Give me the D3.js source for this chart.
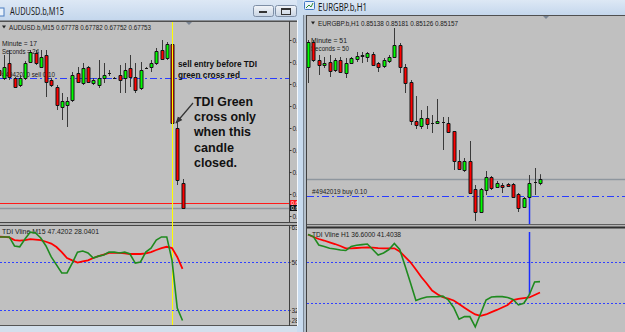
<!DOCTYPE html>
<html><head><meta charset="utf-8">
<script src="https://cdn.jsdelivr.net/npm/d3@7"></script>
<style>body{margin:0;background:#c3d6ec;overflow:hidden}svg{display:block}</style>
</head><body>
<svg id="c" width="625" height="332"></svg>
<script>
// ---------------- DATA ----------------
// AUDUSD.b, M15
const audOpen  = [0.67891,0.67883,0.67898,0.67883,0.67876,0.67883,0.67899,0.67908,0.67894,0.67906,0.67881,0.67874,0.67854,0.67856,0.67861,0.67888,0.67878,0.67894,0.67878,0.67876,0.67883,0.67888,0.67883,0.67886,0.67883,0.67893,0.67884,0.67873,0.67893,0.67894,0.67898,0.67911,0.67903,0.67917,0.67833,0.67778];
const audHigh  = [0.67901,0.67906,0.67911,0.67884,0.67886,0.67900,0.67911,0.67911,0.67911,0.67911,0.67883,0.67876,0.67868,0.67864,0.67889,0.67894,0.67898,0.67895,0.67883,0.67901,0.67898,0.67891,0.67884,0.67896,0.67898,0.67906,0.67898,0.67899,0.67894,0.67901,0.67913,0.67921,0.67919,0.67917,0.67839,0.67782];
const audLow   = [0.67881,0.67881,0.67881,0.67873,0.67874,0.67881,0.67898,0.67896,0.67893,0.67864,0.67874,0.67851,0.67841,0.67834,0.67859,0.67878,0.67876,0.67878,0.67876,0.67873,0.67878,0.67885,0.67882,0.67868,0.67868,0.67874,0.67868,0.67871,0.67892,0.67889,0.67896,0.67901,0.67901,0.67837,0.67776,0.67752];
const audClose = [0.67886,0.67894,0.67884,0.67874,0.67883,0.67898,0.67909,0.67898,0.67904,0.67879,0.67876,0.67856,0.67860,0.67860,0.67886,0.67879,0.67893,0.67879,0.67881,0.67883,0.67886,0.67888,0.67883,0.67881,0.67891,0.67884,0.67871,0.67891,0.67893,0.67898,0.67910,0.67902,0.67917,0.67838,0.67781,0.67753];
const audTdiGreen = [59.4,59.4,59.4,56.0,55.7,58.6,61.2,60.9,59.0,56.0,51.9,48.9,45.9,45.9,49.6,53.7,54.1,53.4,51.5,52.2,52.6,53.7,53.7,53.4,53.7,53.0,49.6,50.0,53.7,55.2,58.2,59.4,59.4,50.7,32.7,28.04];
const audTdiRed   = [59.5,59.4,59.2,58.2,58.0,58.2,58.6,58.4,58.2,57.6,56.9,55.6,53.7,51.5,50.6,49.8,50.2,50.6,51.5,52.2,52.8,53.4,53.4,53.4,53.2,53.0,53.0,53.0,53.2,53.7,54.5,55.2,55.7,55.2,51.9,47.42];
const audPriceTicks = [0.67921,0.67899,0.67877,0.67855,0.67833,0.67811,0.67789,0.67767,0.67745];
const audOrderPrice = 0.67883, audBid = 0.67753, audAsk = 0.67758;
const audVlineIndex = 33;

// EURGBP.b, H1
const gbpOpen  = [0.85717,0.85842,0.85752,0.85727,0.85742,0.85702,0.85752,0.85687,0.85737,0.85757,0.85772,0.85767,0.85782,0.85737,0.85722,0.85747,0.85767,0.85827,0.85717,0.85642,0.85447,0.85422,0.85462,0.85437,0.85437,0.85442,0.85437,0.85397,0.85247,0.85202,0.85247,0.85107,0.84992,0.85102,0.85167,0.85117,0.85127,0.85132,0.85132,0.85082,0.85017,0.85067,0.85142,0.85138];
const gbpHigh  = [0.85852,0.85852,0.85777,0.85767,0.85777,0.85762,0.85767,0.85762,0.85767,0.85792,0.85792,0.85792,0.85792,0.85742,0.85762,0.85777,0.85912,0.85837,0.85732,0.85652,0.85572,0.85502,0.85522,0.85477,0.85557,0.85467,0.85467,0.85397,0.85302,0.85262,0.85347,0.85127,0.85112,0.85197,0.85172,0.85147,0.85137,0.85137,0.85137,0.85087,0.85067,0.85177,0.85212,0.85181];
const gbpLow   = [0.85637,0.85742,0.85677,0.85712,0.85667,0.85692,0.85687,0.85662,0.85732,0.85742,0.85737,0.85742,0.85722,0.85692,0.85712,0.85737,0.85762,0.85687,0.85587,0.85427,0.85407,0.85407,0.85407,0.85387,0.85432,0.85302,0.85387,0.85202,0.85202,0.85192,0.85087,0.84947,0.84987,0.85077,0.85102,0.85112,0.85087,0.85117,0.85062,0.84992,0.85012,0.85062,0.85077,0.85126];
const gbpClose = [0.85842,0.85752,0.85727,0.85737,0.85697,0.85752,0.85692,0.85737,0.85762,0.85772,0.85777,0.85787,0.85727,0.85717,0.85752,0.85767,0.85827,0.85717,0.85637,0.85447,0.85427,0.85462,0.85432,0.85437,0.85447,0.85442,0.85392,0.85247,0.85207,0.85247,0.85087,0.84992,0.85107,0.85167,0.85112,0.85137,0.85117,0.85122,0.85067,0.85012,0.85062,0.85137,0.85142,0.85157];
const gbpTdiGreen = [62.06,61.18,57.46,56.80,56.05,55.70,55.26,55.04,56.80,57.32,57.63,57.89,55.48,53.07,53.95,55.48,58.11,55.48,48.25,40.79,33.11,33.99,34.65,34.74,34.78,35.00,33.33,30.04,24.87,26.01,26.01,21.49,27.41,33.33,34.65,34.78,34.78,34.43,33.55,31.14,31.89,35.53,41.23,41.40];
const gbpTdiRed   = [62.06,60.96,60.09,59.43,58.64,57.89,57.02,56.01,56.01,56.14,56.27,56.45,56.27,56.05,56.01,56.01,56.01,54.61,52.28,49.87,46.71,43.42,40.57,37.50,35.83,34.52,33.90,33.11,31.58,29.96,28.38,26.97,26.32,26.97,27.98,28.95,30.04,31.14,33.25,33.82,34.12,34.43,35.53,36.60];
const gbpOrderPrice = 0.85072, gbpBid = 0.85157;
const gbpVlineIndex = 41;

const tdiLevels = [50, 32];
const tdiAxisTicks = [63, 50, 32, 28];

// ---------------- DRAW ----------------
const svg = d3.select('#c');
const defs = svg.append('defs');
const FONT = "'Liberation Sans', Arial, sans-serif";

function grad(id, c1, c2){
  const g = defs.append('linearGradient').attr('id', id).attr('x1',0).attr('y1',0).attr('x2',0).attr('y2',1);
  g.append('stop').attr('offset',0).attr('stop-color',c1);
  g.append('stop').attr('offset',1).attr('stop-color',c2);
}
grad('tb', '#dde8f5', '#c3d6ec');
grad('btn', '#f2f5f9', '#c8d4e3');
function clip(id,x,y,w,h){ defs.append('clipPath').attr('id',id).append('rect').attr('x',x).attr('y',y).attr('width',w).attr('height',h); }
clip('cLM', 0, 22, 289, 200);
clip('cLS', 0, 226, 289, 99);
clip('cLA', 289, 20, 8, 306);
clip('cRM', 307, 16, 318, 208);
clip('cRS', 307, 228, 318, 104);

function txt(g, x, y, s, size, len, opts={}){
  const t = g.append('text').attr('x',x).attr('y',y).text(s)
    .attr('font-family', opts.family || FONT).attr('font-size', size)
    .attr('fill', opts.fill || '#1a1a1a');
  if (opts.bold) t.attr('font-weight','bold');
  if (len) t.attr('textLength', len).attr('lengthAdjust','spacingAndGlyphs');
  return t;
}

// ---- window chrome ----
svg.append('rect').attr('width',625).attr('height',332).attr('fill','#c3d6ec');
// left window
svg.append('rect').attr('x',0).attr('y',0).attr('width',297).attr('height',21).attr('fill','url(#tb)');
svg.append('rect').attr('x',0).attr('y',20).attr('width',297).attr('height',306).attr('fill','#c0c0c0');
svg.append('line').attr('x1',0).attr('x2',297).attr('y1',20.5).attr('y2',20.5).attr('stroke','#8a8f96');
svg.append('line').attr('x1',0).attr('x2',297).attr('y1',21.5).attr('y2',21.5).attr('stroke','#505050');
svg.append('rect').attr('x',297).attr('y',0).attr('width',6).attr('height',332).attr('fill','#c8dbef');
svg.append('line').attr('x1',297.5).attr('x2',297.5).attr('y1',20).attr('y2',326).attr('stroke','#f4f7fb');
svg.append('rect').attr('x',0).attr('y',326).attr('width',297).attr('height',6).attr('fill','#d3dfec');
svg.append('line').attr('x1',0).attr('x2',297).attr('y1',325.5).attr('y2',325.5).attr('stroke','#555');
// left icon + title
svg.append('rect').attr('x',-3).attr('y',8).attr('width',7).attr('height',8).attr('fill','#e9f1fa').attr('stroke','#4a7cc0');
txt(svg, 10, 14.5, 'AUDUSD.b,M15', 10, 54, {family:"'Noto Sans', 'DejaVu Sans', sans-serif"});
// buttons
[[253,20],[275,21]].forEach(([bx,bw])=>{
  svg.append('rect').attr('x',bx+0.5).attr('y',5.5).attr('width',bw).attr('height',11).attr('rx',2)
    .attr('fill','url(#btn)').attr('stroke','#7e8fa6');
});
svg.append('rect').attr('x',259).attr('y',11).attr('width',8).attr('height',2).attr('fill','#333');
svg.append('rect').attr('x',281.5).attr('y',8.5).attr('width',9).attr('height',6).attr('fill','none').attr('stroke','#333');
svg.append('rect').attr('x',281).attr('y',8).attr('width',10).attr('height',2).attr('fill','#333');

// right window
svg.append('rect').attr('x',303).attr('y',0).attr('width',322).attr('height',16).attr('fill','url(#tb)');
svg.append('rect').attr('x',303).attr('y',15).attr('width',322).attr('height',317).attr('fill','#c0c0c0');
svg.append('line').attr('x1',303).attr('x2',625).attr('y1',15.5).attr('y2',15.5).attr('stroke','#505050');
svg.append('rect').attr('x',303).attr('y',15).attr('width',4).attr('height',317).attr('fill','#b4c0cc');
svg.append('line').attr('x1',303.5).attr('x2',303.5).attr('y1',15).attr('y2',332).attr('stroke','#7d8a98');
svg.append('line').attr('x1',306.5).attr('x2',306.5).attr('y1',15).attr('y2',332).attr('stroke','#404040');
// icon + title
svg.append('rect').attr('x',304.5).attr('y',1.5).attr('width',10).attr('height',8).attr('rx',1).attr('fill','#eaf2fb').attr('stroke','#3f78c4');
svg.append('path').attr('d','M306,8 L309,5 L311,7 L313,3').attr('fill','none').attr('stroke','#2f8a2f');
txt(svg, 318, 10.5, 'EURGBP.b,H1', 10, 49, {family:"'Noto Sans', 'DejaVu Sans', sans-serif"});

// ---------------- LEFT CHART ----------------
const xL = d3.scaleLinear().domain([0, audOpen.length-1]).range([-1.25, 182.5]);
const yL = d3.scaleLinear().domain([audPriceTicks[0], audPriceTicks[audPriceTicks.length-1]]).range([40, 216]);
const tL = d3.scaleLinear().domain([50, 32]).range([262, 310]);

// panel borders
svg.append('line').attr('x1',289.5).attr('x2',289.5).attr('y1',21).attr('y2',326).attr('stroke','#404040');
svg.append('rect').attr('x',0).attr('y',222).attr('width',297).attr('height',4).attr('fill','#b0b0b0');
svg.append('line').attr('x1',0).attr('x2',297).attr('y1',222.5).attr('y2',222.5).attr('stroke','#454545');
svg.append('line').attr('x1',0).attr('x2',297).attr('y1',225.5).attr('y2',225.5).attr('stroke','#454545');

function drawCandles(g, x, y, O, Hh, Lo, C){
  const idx = d3.range(O.length);
  g.selectAll('line.w').data(idx).join('line').attr('class','w')
    .attr('x1', i=>Math.round(x(i))+0.5).attr('x2', i=>Math.round(x(i))+0.5)
    .attr('y1', i=>y(Hh[i])).attr('y2', i=>y(Lo[i]))
    .attr('stroke','#3a3a3a').attr('stroke-width',1);
  g.selectAll('path.b').data(idx).join('path').attr('class','b')
    .attr('d', i=>{
      const cx = Math.round(x(i)) - 1;
      const y1 = Math.round(y(Math.max(O[i],C[i]))) + 0.5;
      const y2 = Math.round(y(Math.min(O[i],C[i]))) + 0.5;
      return `M${cx},${y1}H${cx+3}V${y2}H${cx}Z`;
    })
    .attr('fill', i=> C[i] > O[i] ? '#00ff00' : (C[i] < O[i] ? '#ff0000' : 'none'))
    .attr('stroke','#141414').attr('stroke-width',1);
}

const gLM = svg.append('g').attr('clip-path','url(#cLM)');
// header & comments
gLM.append('path').attr('d','M2,25.5 L6,25.5 L4,28.5 Z').attr('fill','#222');
txt(gLM, 9, 29.5, 'AUDUSD.b,M15  0.67778 0.67782 0.67752 0.67753', 7, 142);
txt(gLM, 2, 46, 'Minute =  17', 7, 35);
txt(gLM, 2, 54, 'Seconds = 24', 7, 37);
txt(gLM, 2, 77, '#4942020 sell 0.10', 7, 53);
// order line, bid/ask
gLM.append('line').attr('x1',0).attr('x2',289).attr('y1',Math.round(yL(audOrderPrice))+0.5).attr('y2',Math.round(yL(audOrderPrice))+0.5)
  .attr('stroke','#2a3cff').attr('stroke-width',1.2).attr('stroke-dasharray','7,3,2,3');
gLM.append('line').attr('x1',0).attr('x2',289).attr('y1',Math.round(yL(audBid))+0.5).attr('y2',Math.round(yL(audBid))+0.5)
  .attr('stroke','#8e969e').attr('stroke-width',1.5);
gLM.append('line').attr('x1',0).attr('x2',289).attr('y1',Math.round(yL(audAsk))+0.5).attr('y2',Math.round(yL(audAsk))+0.5)
  .attr('stroke','#ff1a1a').attr('stroke-width',1);
// shift marker
svg.append('path').attr('d','M186,22 L192,22 L189,25 Z').attr('fill','#7a8594');
// vline
svg.append('line').attr('x1',Math.round(xL(audVlineIndex))+0.5).attr('x2',Math.round(xL(audVlineIndex))+0.5).attr('y1',22).attr('y2',325)
  .attr('stroke','#ffff00').attr('stroke-width',1);
drawCandles(gLM, xL, yL, audOpen, audHigh, audLow, audClose);
// annotations
txt(gLM, 178, 66.5, 'sell entry before TDI', 8.5, 79, {bold:true, fill:'#111'});
txt(gLM, 178, 77.5, 'green cross red', 8.5, 62, {bold:true, fill:'#111'});
['TDI Green','cross only','when this','candle','closed.'].forEach((s,k)=>{
  const lens=[59,62,57,40,43];
  txt(gLM, 194, 106 + k*15.2, s, 12.5, lens[k], {bold:true, fill:'#111'});
});
defs.append('marker').attr('id','ah').attr('viewBox','0 0 10 10').attr('refX',9).attr('refY',5)
  .attr('markerWidth',6).attr('markerHeight',6).attr('orient','auto')
  .append('path').attr('d','M0,1 L10,5 L0,9 Z').attr('fill','#333');
gLM.append('line').attr('x1',193).attr('y1',103).attr('x2',176).attr('y2',123)
  .attr('stroke','#333').attr('stroke-width',1.2).attr('marker-end','url(#ah)');

// price axis
const gLA = svg.append('g').attr('clip-path','url(#cLA)').append('g').attr('transform','translate(289.5,0)');
gLA.call(d3.axisRight(yL).tickValues(audPriceTicks).tickSize(2).tickPadding(1).tickFormat(d3.format('.5f')));
gLA.select('.domain').remove();
gLA.selectAll('text').attr('font-size',6.5).attr('font-family',FONT).attr('fill','#222');
gLA.selectAll('line').attr('stroke','#333');
const gLAbox = svg.append('g').attr('clip-path','url(#cLA)');
[[audAsk,'#ff1a1a'],[audBid,'#111']].forEach(([p,c])=>{
  const yy = Math.round(yL(p));
  gLAbox.append('rect').attr('x',290).attr('y',yy-3).attr('width',8).attr('height',6).attr('fill',c);
  txt(gLAbox, 291, yy+2.2, d3.format('.5f')(p), 5.5, null, {fill:'#fff'});
});

// TDI left
const gLS = svg.append('g').attr('clip-path','url(#cLS)');
tdiLevels.forEach(v=>{
  gLS.append('line').attr('x1',0).attr('x2',289).attr('y1',Math.round(tL(v))+0.5).attr('y2',Math.round(tL(v))+0.5)
    .attr('stroke','#3040ff').attr('stroke-dasharray','2,2');
});
txt(gLS, 2, 234, 'TDI Vline M15 47.4202 28.0401', 7, 97);
const lineL = d3.line().x((d,i)=>xL(i)).y(d=>tL(d));
gLS.append('path').attr('d', lineL(audTdiRed)).attr('fill','none').attr('stroke','#ff0000').attr('stroke-width',1.8);
gLS.append('path').attr('d', lineL(audTdiGreen)).attr('fill','none').attr('stroke','#1f8a1f').attr('stroke-width',1.6);
const gLT = svg.append('g').attr('clip-path','url(#cLA)').append('g').attr('transform','translate(289.5,0)');
gLT.call(d3.axisRight(tL).tickValues(tdiAxisTicks).tickSize(1).tickPadding(1).tickFormat(d3.format('d')));
gLT.select('.domain').remove();
gLT.selectAll('text').attr('font-size',6.5).attr('font-family',FONT).attr('fill','#222');
gLT.selectAll('line').attr('stroke','#333');

// ---------------- RIGHT CHART ----------------
const xR = d3.scaleLinear().domain([0, gbpOpen.length-1]).range([308, 540]);
const yR = d3.scaleLinear().domain([0.85852, 0.85157]).range([40, 179]);
const tR = d3.scaleLinear().domain([50, 32]).range([262, 303]);

svg.append('rect').attr('x',307).attr('y',224).attr('width',318).attr('height',4).attr('fill','#b4b4b4');
svg.append('line').attr('x1',307).attr('x2',625).attr('y1',224.5).attr('y2',224.5).attr('stroke','#606060');
svg.append('line').attr('x1',307).attr('x2',625).attr('y1',227.5).attr('y2',227.5).attr('stroke','#303030').attr('stroke-width',2);

const gRM = svg.append('g').attr('clip-path','url(#cRM)');
gRM.append('path').attr('d','M311,21.5 L315,21.5 L313,24.5 Z').attr('fill','#222');
txt(gRM, 318, 25.7, 'EURGBP.b,H1  0.85138 0.85181 0.85126 0.85157', 7, 140);
txt(gRM, 311, 43, 'Minute =  51', 7, 36);
txt(gRM, 311, 51, 'Seconds = 50', 7, 38);
txt(gRM, 312, 194, '#4942019 buy 0.10', 7, 55);
gRM.append('line').attr('x1',307).attr('x2',625).attr('y1',Math.round(yR(gbpBid))+0.5).attr('y2',Math.round(yR(gbpBid))+0.5)
  .attr('stroke','#8e969e').attr('stroke-width',1.5);
gRM.append('line').attr('x1',307).attr('x2',625).attr('y1',Math.round(yR(gbpOrderPrice))+0.5).attr('y2',Math.round(yR(gbpOrderPrice))+0.5)
  .attr('stroke','#2a3cff').attr('stroke-width',1.2).attr('stroke-dasharray','7,3,2,3');
gRM.append('line').attr('x1',Math.round(xR(gbpVlineIndex))+0.5).attr('x2',Math.round(xR(gbpVlineIndex))+0.5)
  .attr('y1',yR(gbpOrderPrice)).attr('y2',224).attr('stroke','#1a2cff').attr('stroke-width',1.5);
svg.append('path').attr('d','M543,16 L549,16 L546,19 Z').attr('fill','#7a8594');
drawCandles(gRM, xR, yR, gbpOpen, gbpHigh, gbpLow, gbpClose);

const gRS = svg.append('g').attr('clip-path','url(#cRS)');
gRS.append('line').attr('x1',307).attr('x2',625).attr('y1',Math.round(tR(tdiLevels[0]))+0.5).attr('y2',Math.round(tR(tdiLevels[0]))+0.5)
  .attr('stroke','#3040ff').attr('stroke-dasharray','2,2');
gRS.append('line').attr('x1',307).attr('x2',625).attr('y1',Math.round(tR(tdiLevels[1]))+0.5).attr('y2',Math.round(tR(tdiLevels[1]))+0.5)
  .attr('stroke','#3040ff').attr('stroke-dasharray','2,2');
txt(gRS, 312, 237, 'TDI Vline H1 36.6000 41.4038', 7, 89);
gRS.append('line').attr('x1',Math.round(xR(gbpVlineIndex))+0.5).attr('x2',Math.round(xR(gbpVlineIndex))+0.5)
  .attr('y1',232).attr('y2',tR(gbpTdiGreen[gbpVlineIndex])).attr('stroke','#1a2cff').attr('stroke-width',1.5);
const lineR = d3.line().x((d,i)=>xR(i)).y(d=>tR(d));
gRS.append('path').attr('d', lineR(gbpTdiRed)).attr('fill','none').attr('stroke','#ff0000').attr('stroke-width',1.8);
gRS.append('path').attr('d', lineR(gbpTdiGreen)).attr('fill','none').attr('stroke','#1f8a1f').attr('stroke-width',1.6);
</script>
</body></html>
